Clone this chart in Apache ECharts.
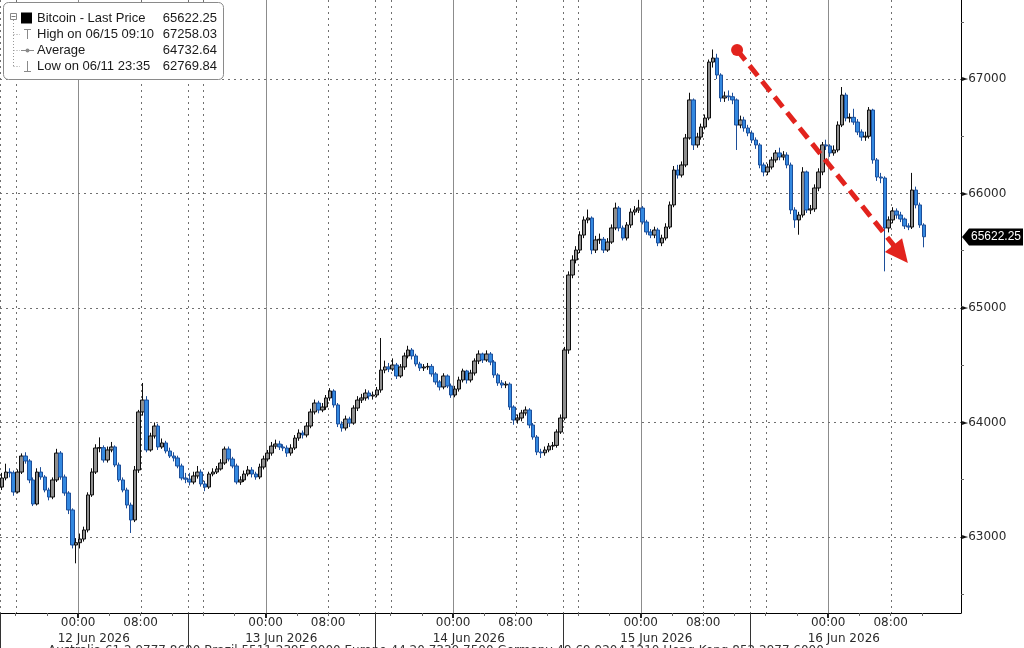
<!DOCTYPE html>
<html><head><meta charset="utf-8">
<script src="https://cdn.jsdelivr.net/npm/echarts@6/dist/echarts.min.js"></script>
<style>html,body{margin:0;padding:0;background:#fff}#c{width:1024px;height:648px}</style>
</head><body><div id="c"></div>
<script>
// time: hours after 11 Jun 2026 00:00; 30-minute candles from 11 Jun 14:00
const startHour = 14;
const stepHours = 0.5;
// price at each half-hour mark (open of first candle, then each candle's close)
const pathPrices = [
63436,63515,63567,63560,63393,63567,63707,63664,63498,63288,
63567,63524,63410,63349,63498,63733,63524,63384,63236,62930,
62950,62982,63061,63367,63567,63777,63780,63672,63760,63786,
63629,63498,63410,63279,63148,63585,64092,64196,63760,63882,
63969,63786,63821,63751,63707,63690,63620,63515,63505,63480,
63533,63567,63463,63436,63550,63567,63594,63646,63768,63681,
63620,63480,63498,63550,63585,63550,63524,63611,63681,63733,
63794,63812,63786,63777,63733,63777,63864,63908,63891,63969,
64092,64170,64109,64135,64214,64275,64153,63987,63952,64030,
63995,64126,64196,64214,64257,64231,64240,64284,64458,64485,
64467,64502,64406,64485,64581,64633,64581,64511,64476,64485,
64490,64424,64354,64310,64406,64319,64240,64292,64371,64450,
64371,64432,64537,64598,64546,64598,64528,64415,64345,64327,
64335,64135,64022,64039,64083,64109,63978,63873,63742,63735,
63760,63794,63800,63917,64039,64633,65288,65419,65506,65637,
65769,65786,65506,65594,65600,65506,65576,65699,65873,65699,
65611,65725,65838,65856,65873,65751,65664,65637,65681,65568,
65611,65707,65900,66205,66161,66249,66485,66817,66424,66493,
66581,66659,67148,67183,67035,66834,66851,66845,66817,66598,
66642,66572,66528,66467,66424,66249,66188,66231,66293,66354,
66319,66336,66249,65856,65769,65812,66188,65856,65865,66048,
66188,66424,66415,66354,66380,66598,66860,66659,66665,66624,
66537,66493,66500,66729,66293,66144,66135,65699,65769,65847,
65812,65777,65716,65707,66030,65900,65725,65622.25
];
const highs = [
63560,63640,63600,63580,63590,63730,63740,63680,63520,63600,
63610,63540,63430,63520,63770,63750,63545,63400,63250,62990,
63030,63090,63390,63600,63810,63870,63800,63790,63830,63800,
63650,63520,63430,63300,63620,64110,64345,64230,63910,64000,
63990,63860,63840,63780,63740,63710,63640,63560,63560,63570,
63620,63590,63490,63570,63600,63620,63680,63790,63790,63700,
63640,63530,63580,63620,63610,63570,63640,63710,63760,63830,
63850,63840,63810,63800,63810,63890,63940,63930,64000,64120,
64200,64190,64170,64240,64300,64290,64170,64010,64060,64050,
64150,64230,64250,64290,64280,64270,64310,64738,64540,64520,
64560,64520,64510,64610,64670,64650,64600,64530,64510,64520,
64510,64440,64370,64430,64420,64340,64320,64400,64470,64460,
64460,64560,64630,64610,64630,64615,64545,64430,64370,64360,
64350,64150,64070,64110,64140,64125,63995,63890,63770,63790,
63820,63830,63940,64070,64660,65320,65460,65540,65670,65800,
65860,65800,65630,65650,65620,65610,65730,65920,65890,65720,
65750,65870,65890,65945,65890,65770,65690,65710,65700,65640,
65740,65930,66240,66250,66280,66520,66880,66830,66530,66610,
66690,67170,67258.03,67220,67050,66890,66900,66880,66830,66680,
66670,66600,66550,66490,66440,66270,66260,66320,66380,66400,
66370,66360,66270,65880,65840,66230,66200,65900,66080,66220,
66450,66470,66430,66420,66630,66930,66880,66700,66740,66650,
66560,66540,66755,66740,66310,66180,66150,65800,65880,65870,
65840,65790,65740,66180,66060,65920,65740
];
const lows = [
63410,63495,63520,63360,63380,63550,63640,63470,63270,63275,
63500,63390,63320,63330,63480,63500,63360,63200,62900,62769.84,
62900,62960,63040,63350,63550,63740,63650,63650,63740,63610,
63480,63390,63250,63035,63130,63560,64060,63740,63745,63860,
63760,63770,63730,63690,63660,63600,63495,63470,63450,63460,
63510,63440,63400,63420,63530,63550,63580,63630,63660,63600,
63460,63455,63480,63530,63520,63500,63505,63590,63660,63710,
63770,63760,63750,63700,63710,63760,63840,63860,63870,63950,
64070,64080,64090,64110,64190,64130,63960,63920,63930,63960,
63980,64100,64170,64190,64200,64200,64220,64260,64430,64440,
64450,64380,64390,64460,64560,64550,64490,64450,64450,64460,
64400,64330,64280,64290,64300,64215,64220,64270,64350,64340,
64350,64410,64510,64520,64530,64500,64390,64320,64300,64300,
64110,63980,63990,64010,64060,63950,63850,63715,63690,63710,
63740,63760,63780,63900,64020,64600,65260,65390,65480,65610,
65740,65470,65480,65560,65480,65490,65560,65680,65670,65590,
65590,65700,65810,65830,65730,65640,65610,65610,65540,65540,
65590,65690,65880,66130,66140,66230,66470,66380,66400,66470,
66560,66640,67100,67000,66800,66800,66810,66780,66380,66570,
66540,66500,66440,66390,66220,66150,66160,66210,66270,66290,
66290,66220,65820,65700,65640,65790,65830,65820,65840,66020,
66160,66380,66320,66330,66360,66580,66630,66620,66600,66510,
66460,66460,66480,66260,66110,66090,65320,65660,65740,65780,
65750,65690,65680,65690,65870,65700,65530
];

const xRange = [14, 137];
const yRange = [62336, 67690];
const timeLabelHours = [24,32,48,56,72,80,96,104,120,128];
const timeLabels = ['00:00','08:00','00:00','08:00','00:00','08:00','00:00','08:00','00:00','08:00'];
const minorTickHours = [16,20,24,28,32,36,40,44,48,52,56,60,64,68,72,76,80,84,88,92,96,100,104,108,112,116,120,124,128,132];
const dayTickHours = [24,48,72,96,120];
const dottedGridHours = [16,32,40,56,64,80,88,104,112,128];
const separatorHours = [14,38,62,86,110];
const dateLabelHours = [26,50,74,98,122];
const dateLabels = ['12 Jun 2026','13 Jun 2026','14 Jun 2026','15 Jun 2026','16 Jun 2026'];
const priceLabels = [63000,64000,65000,66000,67000];
const priceMinorTicks = [62500,63500,64500,65500,66500,67500];
const lastPrice = 65622.25;
const trendArrow = [108.34, 67253, 130.2, 65393];
const legendLabels = ['Bitcoin - Last Price','High on 06/15 09:10','Average','Low on 06/11 23:35'];
const legendValues = ['65622.25','67258.03','64732.64','62769.84'];
const footerText = 'Australia 61 2 9777 8600 Brazil 5511 2395 9000 Europe 44 20 7330 7500 Germany 49 69 9204 1210 Hong Kong 852 2977 6000';

const FONT = 'DejaVu Sans';
const LFONT = 'Liberation Sans';
const candles = [];
for (let i = 1; i < pathPrices.length; i++) {
  candles.push([startHour + (i - 0.5) * stepHours, pathPrices[i-1], pathPrices[i], lows[i-1], highs[i-1]]);
}
const gridV = [].concat(
  dayTickHours.map(h => [h, 0]),
  dottedGridHours.map(h => [h, 1]),
  separatorHours.map(h => [h, 2])
);
const gridH = priceLabels.map(p => [xRange[0], p]);

const chart = echarts.init(document.getElementById('c'), null, {renderer: 'canvas'});
const dotted = {stroke: '#707070', lineWidth: 1, lineDash: [2, 4]};

const legendY = [18.5, 34, 50.5, 66.5];
const graphic = [
  {type:'rect', shape:{x:3.5,y:2.5,width:220,height:77,r:5}, style:{fill:'#fff', stroke:'#8a8a8a', lineWidth:1}, z:100},
  {type:'rect', shape:{x:10.5,y:13.5,width:6,height:6}, style:{fill:'#fff', stroke:'#888', lineWidth:1}, z:101},
  {type:'line', shape:{x1:11.5,y1:16.5,x2:15.5,y2:16.5}, style:{stroke:'#777', lineWidth:1}, z:101},
  {type:'line', shape:{x1:13.5,y1:20,x2:13.5,y2:66.5}, style:{stroke:'#999', lineWidth:1, lineDash:[1,2]}, z:101},
  {type:'line', shape:{x1:13.5,y1:34.5,x2:20,y2:34.5}, style:{stroke:'#999', lineWidth:1, lineDash:[1,2]}, z:101},
  {type:'line', shape:{x1:13.5,y1:50.5,x2:20,y2:50.5}, style:{stroke:'#999', lineWidth:1, lineDash:[1,2]}, z:101},
  {type:'line', shape:{x1:13.5,y1:66.5,x2:20,y2:66.5}, style:{stroke:'#999', lineWidth:1, lineDash:[1,2]}, z:101},
  {type:'rect', shape:{x:21,y:12.5,width:11,height:11}, style:{fill:'#000'}, z:101},
  {type:'line', shape:{x1:24,y1:29.5,x2:31,y2:29.5}, style:{stroke:'#8a8a8a', lineWidth:1}, z:101},
  {type:'line', shape:{x1:27.5,y1:29.5,x2:27.5,y2:39}, style:{stroke:'#8a8a8a', lineWidth:1}, z:101},
  {type:'line', shape:{x1:21,y1:50.5,x2:34,y2:50.5}, style:{stroke:'#8a8a8a', lineWidth:1}, z:101},
  {type:'circle', shape:{cx:27.5,cy:50.5,r:2}, style:{fill:'#8a8a8a'}, z:101},
  {type:'line', shape:{x1:27.5,y1:61,x2:27.5,y2:71.5}, style:{stroke:'#8a8a8a', lineWidth:1}, z:101},
  {type:'line', shape:{x1:24,y1:71.5,x2:31,y2:71.5}, style:{stroke:'#8a8a8a', lineWidth:1}, z:101},
  {type:'text', x:48, y:645, style:{text:footerText, font:'12px "'+FONT+'"', fill:'#333', verticalAlign:'top'}, z:100}
];
legendLabels.forEach((t, i) => {
  graphic.push({type:'text', x:37, y:legendY[i], style:{text:t, font:'13px "'+LFONT+'"', fill:'#1a1a1a', verticalAlign:'middle', align:'left'}, z:102});
  graphic.push({type:'text', x:217, y:legendY[i], style:{text:legendValues[i], font:'13px "'+LFONT+'"', fill:'#1a1a1a', verticalAlign:'middle', align:'right'}, z:102});
});

chart.setOption({
  backgroundColor: '#fff',
  animation: false,
  grid: {left: 0, right: 63, top: 0, bottom: 35, containLabel: false, outerBoundsMode: 'none'},
  xAxis: [
    {type:'value', min:xRange[0], max:xRange[1], position:'bottom',
     axisLine:{show:true, onZero:false, lineStyle:{color:'#000', width:1}},
     axisTick:{show:true, customValues:minorTickHours, length:3, lineStyle:{color:'#666'}},
     axisLabel:{show:true, customValues:timeLabelHours, formatter:v => timeLabels[timeLabelHours.indexOf(v)] || '',
       color:'#2a2a2a', fontFamily:FONT, fontSize:12, margin:4},
     splitLine:{show:false}},
    {type:'value', min:xRange[0], max:xRange[1], position:'bottom',
     axisLine:{show:false, onZero:false},
     axisTick:{show:true, customValues:dayTickHours, length:5, lineStyle:{color:'#222', width:2}},
     axisLabel:{show:true, customValues:dateLabelHours, formatter:v => dateLabels[dateLabelHours.indexOf(v)] || '',
       color:'#2a2a2a', fontFamily:FONT, fontSize:12, margin:20},
     splitLine:{show:false}}
  ],
  yAxis: [
    {type:'value', min:yRange[0], max:yRange[1], position:'right', scale:true,
     axisLine:{show:true, onZero:false, lineStyle:{color:'#000', width:1}},
     axisTick:{show:true, customValues:priceMinorTicks, length:3, lineStyle:{color:'#666'}},
     axisLabel:{show:true, customValues:priceLabels, formatter:v => '{t|\u25BA}' + v,
       rich:{t:{fontSize:8, color:'#111', fontFamily:FONT}},
       color:'#2a2a2a', fontFamily:FONT, fontSize:12, margin:1},
     splitLine:{show:false}}
  ],
  graphic: graphic,
  series: [
    {type:'custom', name:'gridV', xAxisIndex:0, yAxisIndex:0, z:1, silent:true, clip:false,
     data: gridV,
     renderItem: function(params, api){
       const cs = params.coordSys;
       const h = api.value(0), kind = api.value(1);
       const x = Math.round(api.coord([h, yRange[0]])[0]) + 0.5;
       const style = kind === 0 ? {stroke:'#8c8c8c', lineWidth:1} : dotted;
       const ch = [{type:'line', shape:{x1:x, y1:cs.y, x2:x, y2:cs.y + cs.height}, style: style}];
       if (kind === 2) ch.push({type:'line', shape:{x1:x, y1:cs.y + cs.height, x2:x, y2:cs.y + cs.height + 40}, style:{stroke:'#333', lineWidth:1}});
       return {type:'group', children: ch};
     }},
    {type:'custom', name:'gridH', xAxisIndex:0, yAxisIndex:0, z:1, silent:true, clip:false,
     data: gridH,
     renderItem: function(params, api){
       const cs = params.coordSys;
       const y = Math.round(api.coord([api.value(0), api.value(1)])[1]) + 0.5;
       return {type:'line', shape:{x1:cs.x, y1:y, x2:cs.x + cs.width, y2:y}, style: dotted};
     }},
    {type:'candlestick', name:'Bitcoin', xAxisIndex:0, yAxisIndex:0, z:3,
     data: candles, encode:{x:0, y:[1,2,3,4]},
     barWidth: 4,
     itemStyle:{color:'#8e8e8e', color0:'#3388e0', borderColor:'#0d0d0d', borderColor0:'#1c4e99', borderWidth:1}},
    {type:'custom', name:'arrow', xAxisIndex:0, yAxisIndex:0, z:10, silent:true, clip:false,
     data: [trendArrow], encode:{x:[0,2], y:[1,3]},
     renderItem: function(params, api){
       const p0 = api.coord([api.value(0), api.value(1)]);
       const p1 = api.coord([api.value(2), api.value(3)]);
       const dx = p1[0]-p0[0], dy = p1[1]-p0[1];
       const len = Math.sqrt(dx*dx+dy*dy), ux = dx/len, uy = dy/len;
       const L = 23, W = 11;
       const b = [p1[0]-ux*L, p1[1]-uy*L];
       const red = '#e2231d';
       return {type:'group', children:[
         {type:'line', shape:{x1:p0[0], y1:p0[1], x2:b[0]+ux*2, y2:b[1]+uy*2}, style:{stroke:red, lineWidth:5, lineDash:[13,7]}},
         {type:'circle', shape:{cx:p0[0], cy:p0[1], r:6}, style:{fill:red}},
         {type:'polygon', shape:{points:[[p1[0],p1[1]],[b[0]-uy*W, b[1]+ux*W],[b[0]+uy*W, b[1]-ux*W]]}, style:{fill:red}}
       ]};
     }},
    {type:'custom', name:'lastTag', xAxisIndex:0, yAxisIndex:0, z:10, silent:true, clip:false,
     data: [[xRange[1], lastPrice]],
     renderItem: function(params, api){
       const p = api.coord([api.value(0), api.value(1)]);
       const x = p[0] + 1, y = Math.round(p[1]);
       return {type:'group', children:[
         {type:'polygon', shape:{points:[[x,y],[x+7,y-8.5],[1023,y-8.5],[1023,y+8.5],[x+7,y+8.5]]}, style:{fill:'#000'}},
         {type:'text', x:x+34, y:y, style:{text:String(lastPrice), fill:'#fff', font:'12px "'+LFONT+'"', align:'center', verticalAlign:'middle'}}
       ]};
     }}
  ]
});
</script></body></html>
